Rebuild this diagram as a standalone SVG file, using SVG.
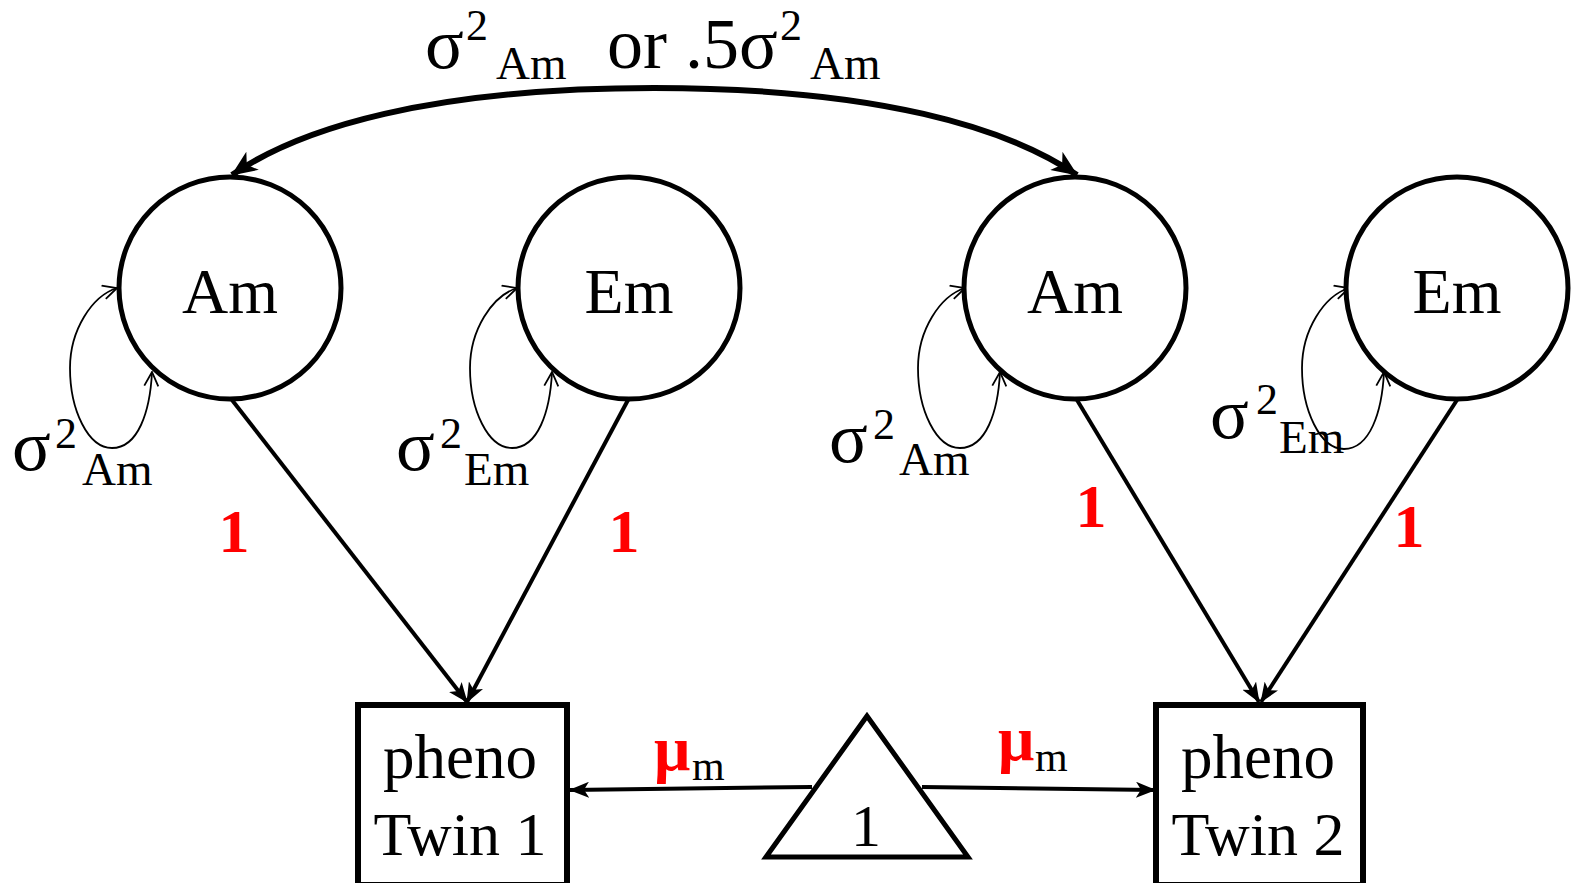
<svg xmlns="http://www.w3.org/2000/svg" width="1573" height="883" viewBox="0 0 1573 883">
<style>
.t{font-family:"Liberation Serif","Times New Roman",serif;fill:#000}
.node{fill:#fff;stroke:#000;stroke-width:5}
.box{fill:#fff;stroke:#000;stroke-width:6}
.path{fill:none;stroke:#000;stroke-width:4}
.loop{fill:none;stroke:#000;stroke-width:1.8}
.red{fill:#f00;font-weight:bold}
</style>
<defs>
<marker id="arr" markerUnits="userSpaceOnUse" viewBox="0 0 20 16" refX="19" refY="8" markerWidth="20" markerHeight="16" orient="auto">
<path d="M0,0 L20,8 L0,16 L5,8 z" fill="#000"/>
</marker>
<marker id="big" markerUnits="userSpaceOnUse" viewBox="0 0 26 22" refX="25" refY="11" markerWidth="26" markerHeight="22" orient="auto-start-reverse">
<path d="M0,0 L26,11 L0,22 L7,11 z" fill="#000"/>
</marker>
<marker id="open" markerUnits="userSpaceOnUse" viewBox="0 0 16 16" refX="15" refY="8" markerWidth="16" markerHeight="16" orient="auto-start-reverse">
<path d="M1,1 L15,8 L1,15" fill="none" stroke="#000" stroke-width="1.8"/>
</marker>
</defs>
<g id="connectors">
<path class="path" d="M232,400 L467,702" marker-end="url(#arr)"/>
<path class="path" d="M628,400 L467,702" marker-end="url(#arr)"/>
<path class="path" d="M1077,400 L1259,702" marker-end="url(#arr)"/>
<path class="path" d="M1457,400 L1261,702" marker-end="url(#arr)"/>
<path class="path" d="M812,787 L570,790" marker-end="url(#arr)"/>
<path class="path" d="M922,787 L1155,790" marker-end="url(#arr)"/>
<path d="M232,175 C300,128 430,88 654,88 C878,88 1008,128 1077,175" fill="none" stroke="#000" stroke-width="6" marker-start="url(#big)" marker-end="url(#big)"/>
<path class="loop" d="M117,288 C92,296 70,330 70,368 C70,410 88,448 112,448 C138,448 150,412 152,372" marker-start="url(#open)" marker-end="url(#open)"/>
<path class="loop" transform="translate(400,0)" d="M117,288 C92,296 70,330 70,368 C70,410 88,448 112,448 C138,448 150,412 152,372" marker-start="url(#open)" marker-end="url(#open)"/>
<path class="loop" transform="translate(848,0)" d="M117,288 C92,296 70,330 70,368 C70,410 88,448 112,448 C138,448 150,412 152,372" marker-start="url(#open)" marker-end="url(#open)"/>
<path class="loop" transform="translate(1232,0)" d="M117,288 C92,296 70,330 70,368 C70,410 88,449 112,449 C138,449 150,412 152,372" marker-start="url(#open)" marker-end="url(#open)"/>
</g>
<g id="labels">
<text class="t"><tspan x="425" y="68" font-size="72">σ</tspan><tspan x="466" y="40" font-size="44">2</tspan><tspan x="496" y="79" font-size="47">Am</tspan><tspan x="607" y="68" font-size="72">or .5σ</tspan><tspan x="780" y="40" font-size="44">2</tspan><tspan x="810" y="79" font-size="47">Am</tspan></text>
<text class="t"><tspan x="12" y="470" font-size="72">σ</tspan><tspan x="55" y="448" font-size="44">2</tspan><tspan x="82" y="485" font-size="47">Am</tspan></text>
<text class="t"><tspan x="396" y="470" font-size="72">σ</tspan><tspan x="440" y="448" font-size="44">2</tspan><tspan x="464" y="485" font-size="47">Em</tspan></text>
<text class="t"><tspan x="829" y="462" font-size="72">σ</tspan><tspan x="873" y="439" font-size="44">2</tspan><tspan x="899" y="475" font-size="47">Am</tspan></text>
<text class="t"><tspan x="1210" y="438" font-size="72">σ</tspan><tspan x="1256" y="414" font-size="44">2</tspan><tspan x="1279" y="453" font-size="47">Em</tspan></text>
<text class="t red" x="234" y="552" font-size="62" text-anchor="middle">1</text>
<text class="t red" x="624" y="552" font-size="62" text-anchor="middle">1</text>
<text class="t red" x="1091" y="527" font-size="62" text-anchor="middle">1</text>
<text class="t red" x="1409" y="547" font-size="62" text-anchor="middle">1</text>
<text class="t"><tspan class="red" x="654" y="770" font-size="64">μ</tspan><tspan x="692" y="780" font-size="42">m</tspan></text>
<text class="t"><tspan class="red" x="998" y="760" font-size="64">μ</tspan><tspan x="1035" y="771" font-size="42">m</tspan></text>
</g>
<g id="Am1"><circle class="node" cx="230" cy="288" r="111"/><text class="t" x="230" y="313" font-size="64" text-anchor="middle">Am</text></g>
<g id="Em1"><circle class="node" cx="629" cy="288" r="111"/><text class="t" x="629" y="313" font-size="64" text-anchor="middle">Em</text></g>
<g id="Am2"><circle class="node" cx="1075" cy="288" r="111"/><text class="t" x="1075" y="313" font-size="64" text-anchor="middle">Am</text></g>
<g id="Em2"><circle class="node" cx="1457" cy="288" r="111"/><text class="t" x="1457" y="313" font-size="64" text-anchor="middle">Em</text></g>
<g id="pheno1"><rect class="box" x="358" y="705" width="209" height="180"/><text class="t" x="460" y="778" font-size="63" text-anchor="middle">pheno</text><text class="t" x="460" y="855" font-size="62" text-anchor="middle">Twin 1</text></g>
<g id="pheno2"><rect class="box" x="1156" y="705" width="207" height="180"/><text class="t" x="1258" y="778" font-size="63" text-anchor="middle">pheno</text><text class="t" x="1258" y="855" font-size="62" text-anchor="middle">Twin 2</text></g>
<g id="one"><path d="M867,716 L766,857 L968,857 Z" fill="#fff" stroke="#000" stroke-width="5" stroke-linejoin="miter"/><text class="t" x="866" y="846" font-size="60" text-anchor="middle">1</text></g>
</svg>
